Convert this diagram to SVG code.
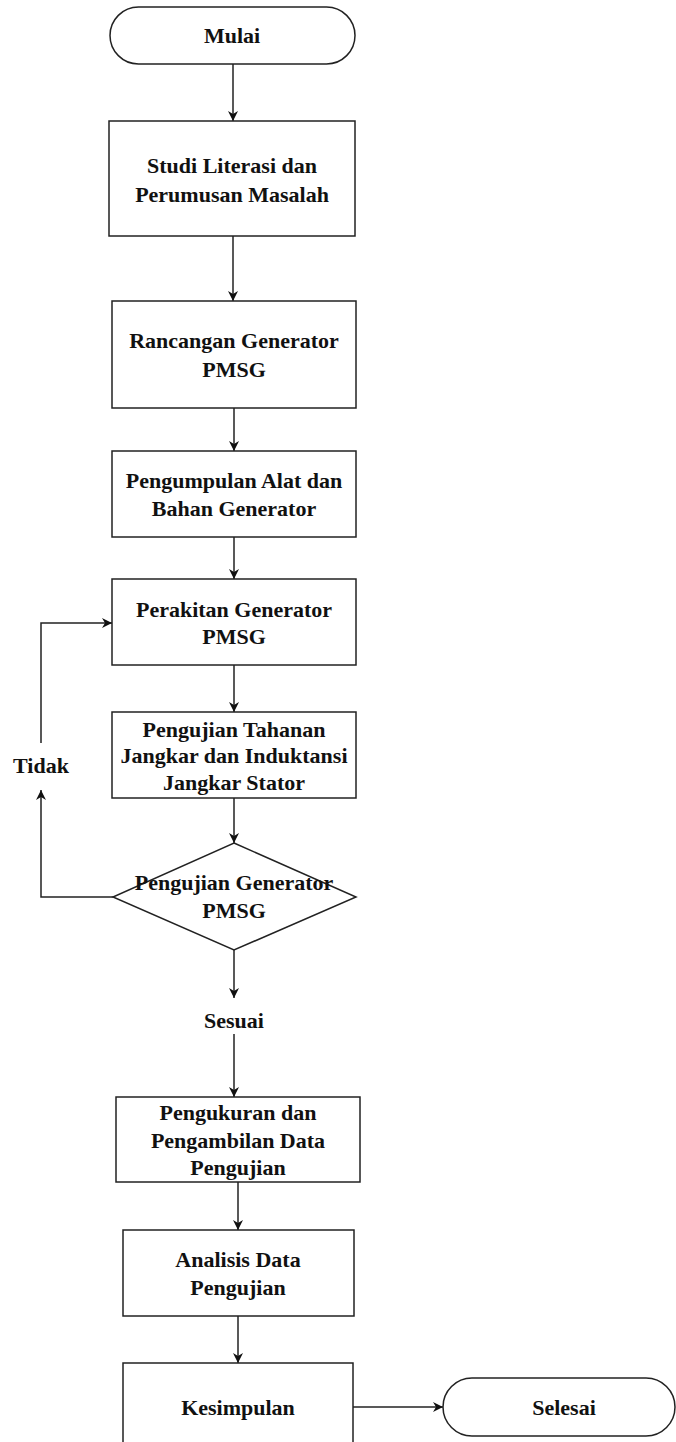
<svg xmlns="http://www.w3.org/2000/svg" width="676" height="1442" viewBox="0 0 676 1442">
<style>
.n{fill:#fff;stroke:#222;stroke-width:1.5}
.t{font-family:"Liberation Serif","Times New Roman",serif;font-weight:bold;font-size:22px;fill:#111;text-anchor:middle}
.c{fill:none;stroke:#222;stroke-width:1.5}
</style>
<defs>
<marker id="ah" viewBox="0 0 10 10" refX="10" refY="5" markerWidth="10" markerHeight="10" markerUnits="userSpaceOnUse" orient="auto">
<path d="M0,0 L10,5 L0,10 L3,5 Z" fill="#111"/>
</marker>
</defs>
<rect width="676" height="1442" fill="#fff"/>
<g id="connectors">
<path class="c" d="M233,64 V121" marker-end="url(#ah)"/>
<path class="c" d="M233,236 V301" marker-end="url(#ah)"/>
<path class="c" d="M234,408 V451" marker-end="url(#ah)"/>
<path class="c" d="M234,537 V579" marker-end="url(#ah)"/>
<path class="c" d="M234,665 V712" marker-end="url(#ah)"/>
<path class="c" d="M234,798 V843" marker-end="url(#ah)"/>
<path class="c" d="M113,897 H41 V790" marker-end="url(#ah)"/>
<path class="c" d="M41,743 V623 H112" marker-end="url(#ah)"/>
<path class="c" d="M234,950 V998" marker-end="url(#ah)"/>
<path class="c" d="M234,1034 V1097" marker-end="url(#ah)" stroke-width="1.2"/>
<path class="c" d="M238,1182 V1230" marker-end="url(#ah)"/>
<path class="c" d="M238,1316 V1363" marker-end="url(#ah)"/>
<path class="c" d="M353,1407 H443" marker-end="url(#ah)"/>
<text class="t" x="41" y="773">Tidak</text>
<text class="t" x="234" y="1028">Sesuai</text>
</g>
<g id="mulai">
<rect class="n" x="110" y="7" width="245" height="57" rx="28.5"/>
<text class="t" x="232" y="43">Mulai</text>
</g>
<g id="studi">
<rect class="n" x="109" y="121" width="246" height="115"/>
<text class="t" x="232" y="173">Studi Literasi dan</text>
<text class="t" x="232" y="202">Perumusan Masalah</text>
</g>
<g id="rancangan">
<rect class="n" x="112" y="301" width="244" height="107"/>
<text class="t" x="234" y="348">Rancangan Generator</text>
<text class="t" x="234" y="377">PMSG</text>
</g>
<g id="pengumpulan">
<rect class="n" x="112" y="451" width="244" height="86"/>
<text class="t" x="234" y="488">Pengumpulan Alat dan</text>
<text class="t" x="234" y="516">Bahan Generator</text>
</g>
<g id="perakitan">
<rect class="n" x="112" y="579" width="244" height="86"/>
<text class="t" x="234" y="617">Perakitan Generator</text>
<text class="t" x="234" y="644">PMSG</text>
</g>
<g id="tahanan">
<rect class="n" x="112" y="712" width="244" height="86"/>
<text class="t" x="234" y="737">Pengujian Tahanan</text>
<text class="t" x="234" y="763">Jangkar dan Induktansi</text>
<text class="t" x="234" y="790">Jangkar Stator</text>
</g>
<g id="keputusan">
<polygon class="n" points="234,843 356,897 234,950 113,897"/>
<text class="t" x="234" y="890">Pengujian Generator</text>
<text class="t" x="234" y="918">PMSG</text>
</g>
<g id="pengukuran">
<rect class="n" x="116" y="1097" width="244" height="85"/>
<text class="t" x="238" y="1120">Pengukuran dan</text>
<text class="t" x="238" y="1148">Pengambilan Data</text>
<text class="t" x="238" y="1175">Pengujian</text>
</g>
<g id="analisis">
<rect class="n" x="123" y="1230" width="231" height="86"/>
<text class="t" x="238" y="1267">Analisis Data</text>
<text class="t" x="238" y="1295">Pengujian</text>
</g>
<g id="kesimpulan">
<rect class="n" x="123" y="1363" width="230" height="95"/>
<text class="t" x="238" y="1415">Kesimpulan</text>
</g>
<g id="selesai">
<rect class="n" x="443" y="1378" width="232" height="58" rx="29"/>
<text class="t" x="564" y="1415">Selesai</text>
</g>
</svg>
